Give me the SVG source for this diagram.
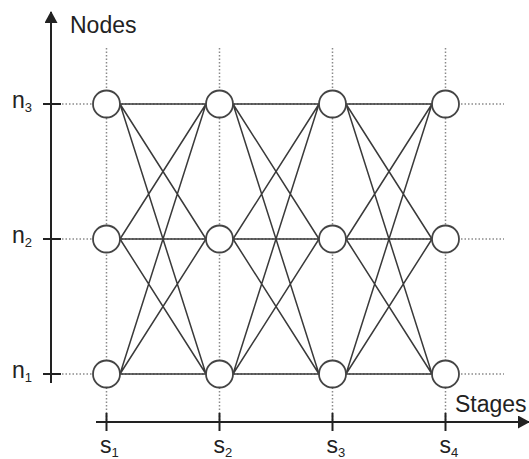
<svg xmlns="http://www.w3.org/2000/svg" width="529" height="459" viewBox="0 0 529 459">
<style>
.txt{font-family:"Liberation Sans",Arial,sans-serif;fill:#222}
.big{font-size:23px}
.sub{font-size:13px}
.dot{stroke:#8a8a8a;stroke-width:1.5;stroke-dasharray:1.5 2;fill:none}
.axis{stroke:#222;stroke-width:2;fill:none}
.edge{stroke:#3a3a3a;stroke-width:1.5;fill:none}
.node{fill:#fff;stroke:#444;stroke-width:1.8}
</style>
<defs>
<marker id="arr" viewBox="0 0 12 13" refX="11" refY="6.5" markerWidth="12" markerHeight="13" markerUnits="userSpaceOnUse" orient="auto">
<path d="M0,0 L12,6.5 L0,13 Z" fill="#222"/>
</marker>
</defs>
<rect width="529" height="459" fill="#fff"/>
<g id="grid">
<line class="dot" x1="106.5" y1="48" x2="106.5" y2="420"/>
<line class="dot" x1="219.5" y1="48" x2="219.5" y2="420"/>
<line class="dot" x1="332.5" y1="48" x2="332.5" y2="420"/>
<line class="dot" x1="445.5" y1="48" x2="445.5" y2="420"/>
<line class="dot" x1="62" y1="104" x2="504" y2="104"/>
<line class="dot" x1="62" y1="239" x2="504" y2="239"/>
<line class="dot" x1="62" y1="374" x2="504" y2="374"/>
</g>
<g id="axes">
<line class="axis" x1="51" y1="383" x2="51" y2="12" marker-end="url(#arr)"/>
<line class="axis" x1="96" y1="422" x2="529" y2="422" marker-end="url(#arr)"/>
<line class="axis" x1="43" y1="104" x2="61" y2="104"/>
<line class="axis" x1="43" y1="239" x2="61" y2="239"/>
<line class="axis" x1="43" y1="374" x2="61" y2="374"/>
<line class="axis" x1="106.5" y1="413" x2="106.5" y2="431"/>
<line class="axis" x1="219.5" y1="413" x2="219.5" y2="431"/>
<line class="axis" x1="332.5" y1="413" x2="332.5" y2="431"/>
<line class="axis" x1="445.5" y1="413" x2="445.5" y2="431"/>
</g>
<g id="connectors">
<path class="edge" d="M120,104L206,104M120,104L206,239M120,104L206,374M120,239L206,104M120,239L206,239M120,239L206,374M120,374L206,104M120,374L206,239M120,374L206,374"/>
<path class="edge" d="M233,104L319,104M233,104L319,239M233,104L319,374M233,239L319,104M233,239L319,239M233,239L319,374M233,374L319,104M233,374L319,239M233,374L319,374"/>
<path class="edge" d="M346,104L432,104M346,104L432,239M346,104L432,374M346,239L432,104M346,239L432,239M346,239L432,374M346,374L432,104M346,374L432,239M346,374L432,374"/>
</g>
<g id="node-s1-n3"><circle class="node" cx="106.5" cy="104" r="13.5"/></g>
<g id="node-s1-n2"><circle class="node" cx="106.5" cy="239" r="13.5"/></g>
<g id="node-s1-n1"><circle class="node" cx="106.5" cy="374" r="13.5"/></g>
<g id="node-s2-n3"><circle class="node" cx="219.5" cy="104" r="13.5"/></g>
<g id="node-s2-n2"><circle class="node" cx="219.5" cy="239" r="13.5"/></g>
<g id="node-s2-n1"><circle class="node" cx="219.5" cy="374" r="13.5"/></g>
<g id="node-s3-n3"><circle class="node" cx="332.5" cy="104" r="13.5"/></g>
<g id="node-s3-n2"><circle class="node" cx="332.5" cy="239" r="13.5"/></g>
<g id="node-s3-n1"><circle class="node" cx="332.5" cy="374" r="13.5"/></g>
<g id="node-s4-n3"><circle class="node" cx="445.5" cy="104" r="13.5"/></g>
<g id="node-s4-n2"><circle class="node" cx="445.5" cy="239" r="13.5"/></g>
<g id="node-s4-n1"><circle class="node" cx="445.5" cy="374" r="13.5"/></g>
<g id="labels" class="txt">
<text class="big" x="70" y="33">Nodes</text>
<text class="big" x="455" y="411.5">Stages</text>
<text x="12" y="108"><tspan class="big">n</tspan><tspan class="sub" dy="4">3</tspan></text>
<text x="12" y="243"><tspan class="big">n</tspan><tspan class="sub" dy="4">2</tspan></text>
<text x="12" y="378"><tspan class="big">n</tspan><tspan class="sub" dy="4">1</tspan></text>
<text x="100" y="452.5"><tspan class="big">s</tspan><tspan class="sub" dy="4.5">1</tspan></text>
<text x="213.5" y="452.5"><tspan class="big">s</tspan><tspan class="sub" dy="4.5">2</tspan></text>
<text x="326.5" y="452.5"><tspan class="big">s</tspan><tspan class="sub" dy="4.5">3</tspan></text>
<text x="439.5" y="452.5"><tspan class="big">s</tspan><tspan class="sub" dy="4.5">4</tspan></text>
</g>
</svg>
